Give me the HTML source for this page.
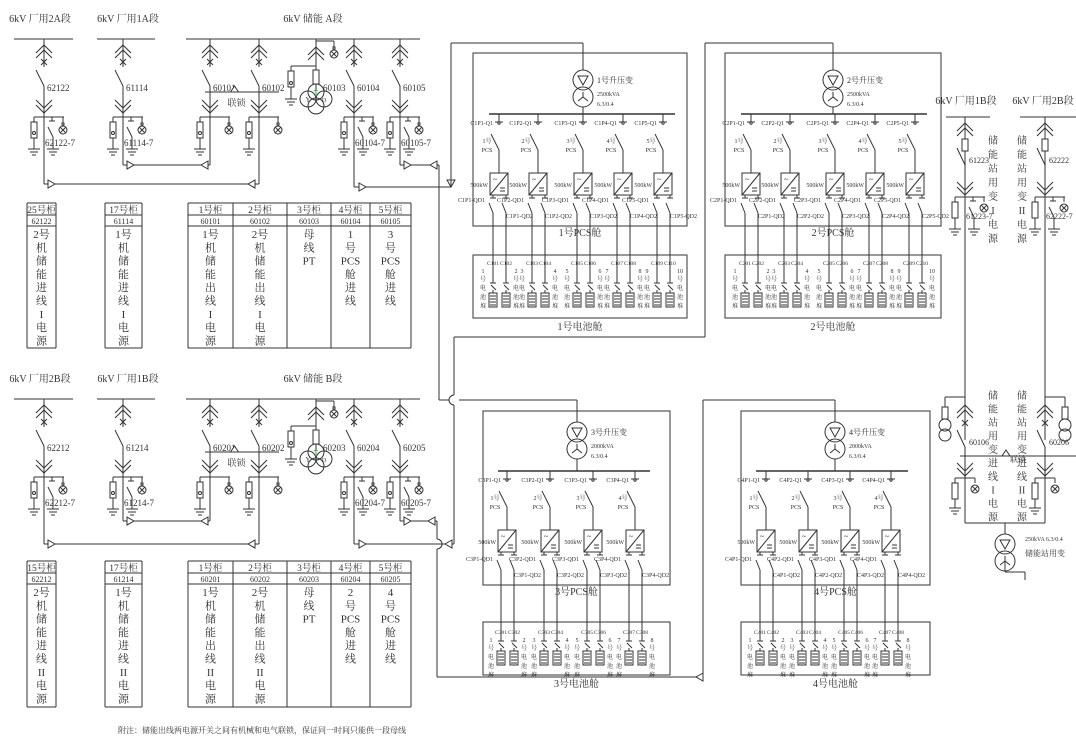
<!DOCTYPE html>
<html><head><meta charset="utf-8"><style>
html,body{margin:0;padding:0;background:#fff}
svg{display:block}
text{font-family:"Liberation Serif","Noto Serif CJK SC",serif;fill:#333}
</style></head><body>
<svg id="d" width="1076" height="743" viewBox="0 0 1076 743" xmlns="http://www.w3.org/2000/svg" stroke="#333" stroke-width="1" fill="none"></svg>
<script>
let s='';
const L=(a,b,c,d,w)=>s+=`<line x1="${a}" y1="${b}" x2="${c}" y2="${d}"${w?` stroke-width="${w}"`:''}/>`;
const P=p=>s+=`<polyline points="${p}"/>`;
const R=(x,y,w,h)=>s+=`<rect x="${x}" y="${y}" width="${w}" height="${h}" fill="#fff"/>`;
const RN=(x,y,w,h)=>s+=`<rect x="${x}" y="${y}" width="${w}" height="${h}" fill="none"/>`;
const C=(x,y,r)=>s+=`<circle cx="${x}" cy="${y}" r="${r}" fill="none"/>`;
const T=(x,y,t,fs=9,a='start',col)=>s+=`<text x="${x}" y="${y}" font-size="${fs}" text-anchor="${a}" stroke="none"${col?` style="fill:${col}"`:''}>${t}</text>`;
const gnd=(x,y)=>{L(x-6,y,x+6,y);L(x-4,y+3,x+4,y+3);L(x-2,y+6,x+2,y+6);};
const lamp=(x,y)=>{C(x,y,4);L(x-3,y-3,x+3,y+3);L(x-3,y+3,x+3,y-3);};
const triR=(x,y)=>s+=`<polygon points="${x-3},${y-4} ${x+4},${y} ${x-3},${y+4}" fill="#fff"/>`;
const triL=(x,y)=>s+=`<polygon points="${x+3},${y-4} ${x-4},${y} ${x+3},${y+4}" fill="#fff"/>`;
const upCh=(x,y)=>{P(`${x-8},${y+8} ${x},${y} ${x+8},${y+8}`);P(`${x-8},${y+13} ${x},${y+5} ${x+8},${y+13}`);};
const dnCh=(x,y)=>{P(`${x-8},${y} ${x},${y+8} ${x+8},${y}`);P(`${x-8},${y+5} ${x},${y+13} ${x+8},${y+5}`);};
function feeder(x,yb,lab,gl,yEnd,noGS){
  L(x,yb,x,yb+28);upCh(x,yb+6);
  L(x-3,yb+20,x+3,yb+26);L(x+3,yb+20,x-3,yb+26);
  L(x-8,yb+31,x,yb+47);L(x,yb+47,x,yEnd);
  T(x+3,yb+52,lab);
  dnCh(x,yb+61);
  const n=yb+78;
  L(x-10,n,x+20,n);
  L(x-10,n,x-10,n+5);R(x-13,n+5,6,16);C(x-10,n+16,1.5);L(x-10,n+21,x-10,n+32);gnd(x-10,n+32);
  if(!noGS){L(x+8,n,x+8,n+4);L(x+5,n+4,x+11,n+4);L(x+4,n+10,x+9,n+20);L(x+9,n+20,x+9,n+32);gnd(x+9,n+32);}
  L(x+19,n,x+19,n+7);R(x+18,n+6,2,2);lamp(x+19,n+13);
  if(gl)T(x+1,n+29,gl);
}
function ptFeeder(x,yb){
  L(x,yb+2,x+18,yb+2);L(x+18,yb+2,x+18,yb+8);R(x+17,yb+8,2,2);lamp(x+18,yb+15);
  upCh(x,yb+8);L(x,yb,x,yb+27);
  L(x-25,yb+27,x,yb+27);
  L(x-25,yb+27,x-25,yb+32);R(x-28,yb+32,6,16);C(x-25,yb+44,1.5);L(x-25,yb+48,x-25,yb+60);gnd(x-25,yb+60);
  L(x,yb+27,x,yb+31);R(x-3,yb+31,6,14);L(x,yb+45,x,yb+52);
  C(x-8,yb+60,8);C(x+8,yb+60,8);C(x,yb+53,8);C(x,yb+67,8);
  T(x-8,yb+63,'Y',7,'middle');T(x,yb+56,'Y',7,'middle','#2a2');T(x+8,yb+63,'D',6,'middle');
  T(x+7,yb+52,yb<200?'60103':'60203');
}
function tie(x1,x2,y){L(x1-5,y,x2+20,y);s+=`<polygon points="${(x1+x2)/2-4},${y} ${(x1+x2)/2},${y-6} ${(x1+x2)/2+4},${y}" fill="#fff"/>`;T((x1+x2)/2+2,y+14,'联锁',9,'middle');}
function section(yb,labs,names,a){
  T(40,yb-17,labs[0],10,'middle');T(128,yb-17,labs[1],10,'middle');T(313,yb-17,labs[2],10,'middle');
  L(14,yb,73,yb);L(97,yb,155,yb);L(186,yb,420,yb);
  feeder(44,yb,names[0],names[0]+'-7',yb+a.e0);
  feeder(123,yb,names[1],names[1]+'-7',yb+a.e1);
  feeder(210,yb,names[2],'',yb+a.e1,true);
  feeder(259,yb,names[3],'',yb+a.e0,true);
  ptFeeder(316,yb);
  feeder(354,yb,names[5],names[5]+'-7',yb+a.e2);
  feeder(400,yb,names[6],names[6]+'-7',yb+a.e3);
  tie(210,259,yb+53);
  L(123,yb+a.e1,210,yb+a.e1);triR(130,yb+a.e1);triL(205,yb+a.e1);
  L(44,yb+a.e0,259,yb+a.e0);triR(51,yb+a.e0);triL(252,yb+a.e0);
}
section(39,['6kV 厂用2A段','6kV 厂用1A段','6kV 储能 A段'],['62122','61114','60101','60102','','60104','60105'],{e0:145,e1:126,e2:148,e3:126});
section(399,['6kV 厂用2B段','6kV 厂用1B段','6kV 储能 B段'],['62212','61214','60201','60202','','60204','60205'],{e0:145,e1:122,e2:145,e3:122});
L(354,187,451,187);triR(362,187);
s+=`<polygon points="447,180 455,180 451,187" fill="#fff"/>`;
L(451,187,451,43);L(451,43,583,43);L(583,43,583,70);
L(400,165,439,165);triR(407,165);triL(434,165);
L(439,165,439,400);L(439,400,449,400);L(459,400,577,400);L(577,400,577,422);
L(705,43,833,43);L(833,43,833,70);L(705,43,705,337);L(705,337,454,337);
L(454,337,454,395);s+=`<path d="M454,395 a5,5 0 0 0 0,10"/>`;L(454,405,454,544);
L(354,544,454,544);triR(362,544);triL(449,544);
L(400,521,437,521);triR(407,521);triL(432,521);
L(437,521,437,539);s+=`<path d="M437,539 a5,5 0 0 1 0,10"/>`;L(437,549,437,677);L(437,677,700,677);triL(700,677);L(703,677,703,400);L(703,400,835,400);L(835,400,835,422);
function xfmr(x,y,n,kva,v){
  C(x,y,10);s+=`<polygon points="${x-5},${y-4} ${x+5},${y-4} ${x},${y+5}"/>`;
  C(x,y+17,10);L(x,y+12,x,y+17);L(x,y+17,x-5,y+21);L(x,y+17,x+5,y+21);
  if(n){T(x+14,y+3,n,8);T(x+14,y+16,kva,6);T(x+14,y+26,v,6);}
}
function pcs(o){
  RN(o.bx,o.by,o.bw,o.bh);
  RN(o.bx,o.bby,o.bw,o.bbh);
  L(o.tx,o.by-10,o.tx,o.by+o.t1-10);xfmr(o.tx,o.by+o.t1,o.n+'号升压变',o.kva,'6.3/0.4');
  L(o.tx,o.by+o.t1+27,o.tx,o.bus);
  L(o.b1,o.bus,o.b2,o.bus,1.5);
  const bb=o.bus;
  o.br.forEach((x,i)=>{
    const k=i+1;
    L(x,bb,x,bb+8);L(x-4,bb+8,x+4,bb+8);C(x,bb+9,1.2);
    T(x-6,bb+11,`C${o.n}P${k}-Q1`,6,'end');
    L(x-8,bb+20,x,bb+36);L(x,bb+36,x,bb+59);
    T(x-12,bb+29,k+'号',6,'middle');T(x-12,bb+38,'PCS',6,'middle');
    const y=bb+59;R(x-9,y,18,22);L(x-9,y+22,x+9,y);T(x-4,y+9,'~',8,'middle');L(x+1,y+15,x+6,y+15);L(x+1,y+18,x+6,y+18);
    T(x-11,y+14,'500kW',6,'end');
    [x-6,x+7].forEach((xx,j)=>{
      L(xx,y+22,xx,y+25);L(xx-3,y+25,xx+3,y+25);
      L(xx-4,y+30,xx,y+40);L(xx,y+40,xx,o.batY);
      const bn=2*i+j+1;
      T(xx+(j?0:-8),o.by+o.bh-(j?14:24)+(j?6:0),`C${o.n}P${k}-QD${j+1}`,6,j?'start':'end');
      const yb2=o.batY;L(xx-3,yb2,xx+3,yb2);L(xx-2,yb2+2,xx+3,yb2+7);L(xx,yb2+7,xx,yb2+10);
      R(xx-4,yb2+10,8,14);for(let q=0;q<4;q++)L(xx-3,yb2+13+q*3,xx+3,yb2+13+q*3);
      T(xx,o.cbY,`C${o.n}${String(bn).padStart(2,'0')}`,5.5,'middle');
      const lx=j?xx+10:xx-10;
      ['号','电','池','堆'].forEach((c,m)=>T(lx,o.cbY+16+m*9,c,6,'middle'));
      T(lx,o.cbY+8,bn,6,'middle');
    });
  });
  T(o.bx+o.bw/2,o.by+o.bh+10,o.n+'号PCS舱',10,'middle');
  T(o.bx+o.bw/2,o.bby+o.bbh+12,o.n+'号电池舱',10,'middle');
}
pcs({n:1,bx:473,by:53,bw:214,bh:173,tx:583,t1:27,kva:'2500kVA',bus:114,b1:489,b2:675,br:[499,538,583,623,663],batY:283,cbY:265,bby:255,bbh:63});
pcs({n:2,bx:725,by:53,bw:216,bh:173,tx:833,t1:27,kva:'2500kVA',bus:114,b1:741,b2:927,br:[751,790,835,875,915],batY:283,cbY:265,bby:255,bbh:63});
pcs({n:3,bx:483,by:411,bw:187,bh:174,tx:577,t1:21,kva:'2000kVA',bus:471,b1:498,b2:650,br:[507,550,593,635],batY:641,cbY:634,bby:622,bbh:53});
pcs({n:4,bx:741,by:411,bw:189,bh:174,tx:835,t1:21,kva:'2000kVA',bus:471,b1:756,b2:908,br:[766,808,850,891],batY:641,cbY:634,bby:622,bbh:53});
function col(x,y,arr,st=13.3,fs=11){arr.forEach((c,i)=>T(x,y+i*st,c,fs,'middle'));}
function table(xs,y0,y1,hd,cd,ct){
  L(xs[0],y0,xs[xs.length-1],y0);L(xs[0],y0+12,xs[xs.length-1],y0+12);L(xs[0],y0+23,xs[xs.length-1],y0+23);L(xs[0],y1,xs[xs.length-1],y1);
  xs.forEach(x=>L(x,y0,x,y1));
  for(let i=0;i<xs.length-1;i++){const cx=(xs[i]+xs[i+1])/2;T(cx,y0+10,hd[i],9.5,'middle');T(cx,y0+21,cd[i],8,'middle');col(cx,y0+35,ct[i]);}
}
function mk(a,b,c){return [a,'机','储','能',b,'线',c,'电','源'];}
table([27,56],203,348,['25号柜'],['62122'],[mk('2号','进','I')]);
table([105,142],203,348,['17号柜'],['61114'],[mk('1号','进','I')]);
table([188,233,287,331,370,411],203,348,['1号柜','2号柜','3号柜','4号柜','5号柜'],['60101','60102','60103','60104','60105'],
 [mk('1号','出','I'),mk('2号','出','I'),['母','线','PT'],['1','号','PCS','舱','进','线'],['3','号','PCS','舱','进','线']]);
table([27,56],561,707,['15号柜'],['62212'],[mk('2号','进','II')]);
table([105,142],561,707,['17号柜'],['61214'],[mk('1号','进','II')]);
table([188,233,287,331,370,411],561,707,['1号柜','2号柜','3号柜','4号柜','5号柜'],['60201','60202','60203','60204','60205'],
 [mk('1号','出','II'),mk('2号','出','II'),['母','线','PT'],['2','号','PCS','舱','进','线'],['4','号','PCS','舱','进','线']]);
T(966,104,'6kV 厂用1B段',10,'middle');T(1043,104,'6kV 厂用2B段',10,'middle');
L(946,117,990,117);L(1020,117,1076,117);
function rfeed(x,lab,gl){
  L(x,117,x,160);upCh(x,123);R(x-3,139,6,12);L(x-8,148,x,165);
  T(x+4,163,lab,8);dnCh(x,182);
  const n=197;L(x-10,n,x+20,n);
  L(x-10,n,x-10,n+5);R(x-13,n+5,6,16);L(x-10,n+21,x-10,n+32);gnd(x-10,n+32);
  L(x+8,n,x+8,n+4);L(x+5,n+4,x+11,n+4);L(x+4,n+10,x+9,n+20);L(x+9,n+20,x+9,n+32);gnd(x+9,n+32);
  L(x+19,n,x+19,n+5);lamp(x+19,n+11);T(x+1,n+22,gl,8);
  L(x,160,x,397);
}
rfeed(965,'61223','61223-7');rfeed(1045,'62222','62222-7');
col(993,144,['储','能','站','用','变','I','电','源'],14,10);
col(1022,144,['储','能','站','用','变','II','电','源'],14,10);
col(993,399,['储','能','站','用','变','进','线','I','电','源'],13.5,10);
col(1022,399,['储','能','站','用','变','进','线','II','电','源'],13.5,10);
function rlow(x,lab,dx){
  L(x,397,x+dx,397);L(x+dx,397,x+dx,407);R(x+dx-3,407,6,12);C(x+dx,425,6);C(x+dx,435,6);
  L(x,397,x,440);upCh(x,405);L(x-3,420,x+3,426);L(x+3,420,x-3,426);L(x-8,430,x,447);L(x,447,x,523);
  T(x+4,445,lab,8);dnCh(x,463);
  const n=478;L(x-10,n,x+10,n);L(x-10,n,x-10,n+5);R(x-13,n+5,6,16);L(x-10,n+21,x-10,n+30);gnd(x-10,n+30);
  L(x+10,n,x+10,n+5);lamp(x+10,n+11);
}
rlow(965,'60106',-20);rlow(1045,'60206',20);
L(960,456,1076,456);s+=`<polygon points="1002,456 1006,450 1010,456" fill="#fff"/>`;T(1018,462,'联锁',8,'middle');
L(965,523,1045,523);L(1005,523,1005,534);xfmr(1005,544);
L(1005,561,1005,572);L(1005,572,1025,572);L(1025,572,1025,580);
T(1025,541,'250kVA 6.3/0.4',6);T(1025,556,'储能站用变',8);
T(118,733,'附注：储能出线两电源开关之间有机械和电气联锁，保证同一时间只能供一段母线',8);
document.getElementById('d').innerHTML=s;
</script>
</body></html>
